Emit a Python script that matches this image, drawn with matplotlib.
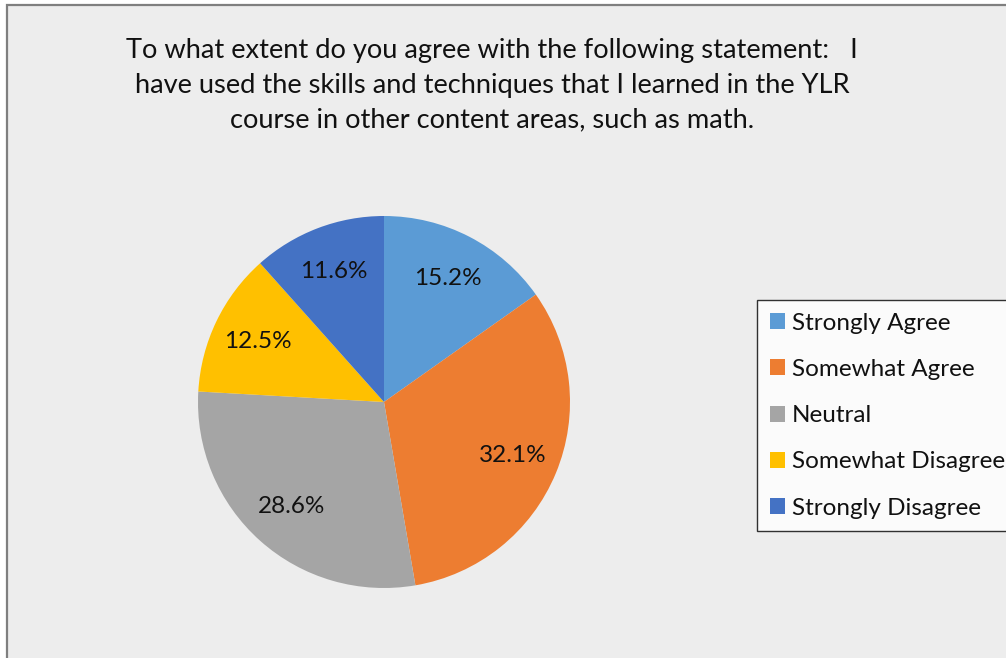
import matplotlib
matplotlib.use("Agg")
import matplotlib.pyplot as plt
from matplotlib.patches import Rectangle

categories = ["Strongly Agree", "Somewhat Agree", "Neutral",
              "Somewhat Disagree", "Strongly Disagree"]
shares = [15.2, 32.1, 28.6, 12.5, 11.6]
colors = ["#5B9BD5", "#ED7D31", "#A5A5A5", "#FFC000", "#4472C4"]
title = ("To what extent do you agree with the following statement:   I\n"
         "have used the skills and techniques that I learned in the YLR\n"
         "course in other content areas, such as math.")

plt.rcParams["font.family"] = ["Lato", "DejaVu Sans"]

W, H = 1006, 658
fig = plt.figure(figsize=(W / 100, H / 100), dpi=100)
fig.patch.set_facecolor("white")

# chart area with its frame (cut off at right and bottom)
fig.patches.append(Rectangle((7 / W, -0.01), 1.02, (H - 5) / H + 0.01,
                             transform=fig.transFigure, facecolor="#EDEDED",
                             edgecolor="#7F7F7F", linewidth=1.6, zorder=-5))

fig.text(492 / W, 1 - 38 / H, title, ha="center", va="top",
         fontsize=19.6, linespacing=1.49, color="#111111")

cx, cy, r = 384, 402, 186
ax = fig.add_axes([(cx - r) / W, (H - cy - r) / H, 2 * r / W, 2 * r / H])
wedges, texts, autotexts = ax.pie(
    shares, colors=colors, startangle=90, counterclock=False,
    autopct="%1.1f%%", pctdistance=0.75,
    textprops=dict(fontsize=17.5, color="#111111"),
    wedgeprops=dict(linewidth=0))
ax.set_xlim(-1, 1)
ax.set_ylim(-1, 1)
ax.set_aspect("auto")
ax.axis("off")

leg = fig.legend(wedges, categories, loc="upper left",
                 bbox_to_anchor=(757 / W, 1 - 300 / H),
                 frameon=True, fancybox=False, fontsize=17.5,
                 handlelength=0.62, handleheight=0.62, handletextpad=0.3,
                 labelspacing=1.04, borderpad=0.52, borderaxespad=0)
leg.get_frame().set_edgecolor("black")
leg.get_frame().set_linewidth(1.0)
for t in leg.get_texts():
    t.set_color("#111111")

fig.savefig("out.png", dpi=100)
